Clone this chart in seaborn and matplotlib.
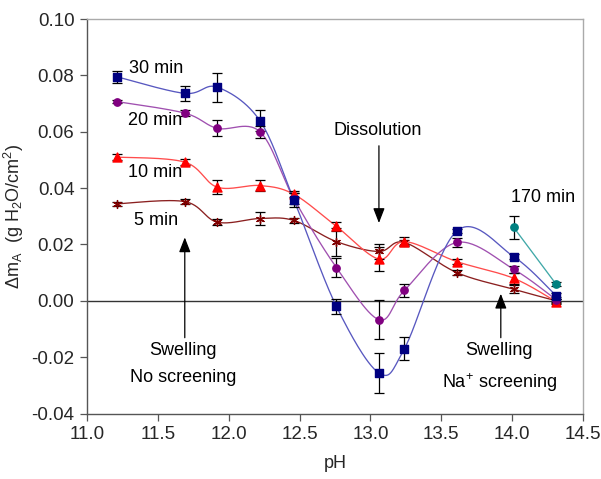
import numpy as np
import pandas as pd
import matplotlib
matplotlib.use("Agg")
import matplotlib.pyplot as plt
import seaborn as sns

# pH of each measurement
ph = [11.21, 11.69, 11.92, 12.22, 12.46, 12.76, 13.06, 13.24, 13.61, 14.01, 14.31]

# mass change (g H2O/cm2) and error bars per immersion time
dm_5 = [0.0344, 0.0352, 0.0279, 0.0292, 0.0285, 0.0210, 0.0175, 0.0207, 0.0100, 0.0041, 0.0000]
err_5 = [0.0008, 0.0008, 0.0010, 0.0022, 0.0010, 0.0050, 0.0025, 0.0010, 0.0008, 0.0015, 0.0008]

dm_10 = [0.0510, 0.0492, 0.0403, 0.0409, 0.0378, 0.0264, 0.0148, 0.0210, 0.0139, 0.0080, -0.0003]
err_10 = [0.0010, 0.0010, 0.0024, 0.0018, 0.0010, 0.0015, 0.0044, 0.0015, 0.0010, 0.0020, 0.0008]

dm_20 = [0.0707, 0.0666, 0.0612, 0.0600, 0.0362, 0.0118, -0.0067, 0.0037, 0.0207, 0.0112, 0.0004]
err_20 = [0.0006, 0.0010, 0.0028, 0.0022, 0.0020, 0.0034, 0.0070, 0.0022, 0.0015, 0.0012, 0.0010]

dm_30 = [0.0795, 0.0736, 0.0758, 0.0639, 0.0358, -0.0020, -0.0256, -0.0170, 0.0248, 0.0157, 0.0018]
err_30 = [0.0021, 0.0028, 0.0051, 0.0038, 0.0025, 0.0027, 0.0072, 0.0040, 0.0008, 0.0010, 0.0010]

ph_170 = [14.01, 14.31]
dm_170 = [0.0261, 0.0059]
err_170 = [0.0040, 0.0008]

series = [
    # label, x, y, err, marker colour, line colour, marker, size
    ("5 min", ph, dm_5, err_5, "#800000", "#8b2020", (6, 2, 0), 32),
    ("10 min", ph, dm_10, err_10, "#ff0000", "#ff4c4c", "^", 42),
    ("20 min", ph, dm_20, err_20, "#800080", "#a050b0", "o", 28),
    ("30 min", ph, dm_30, err_30, "#000080", "#5858c0", "s", 32),
    ("170 min", ph_170, dm_170, err_170, "#008080", "#40a8a8", "o", 28),
]


def smooth_curve(x, y, n=30):
    """Bezier smoothing through the points (Catmull-Rom style tangents)."""
    x = np.asarray(x, float)
    y = np.asarray(y, float)
    pts = np.column_stack([x, y])
    if len(pts) < 3:
        return x, y
    ext = np.vstack([pts[0], pts, pts[-1]])
    out = []
    t = np.linspace(0, 1, n)[:, None]
    for i in range(len(pts) - 1):
        p0, p1, p2, p3 = ext[i], ext[i + 1], ext[i + 2], ext[i + 3]
        c1 = p1 + (p2 - p0) / 6.0
        c2 = p2 - (p3 - p1) / 6.0
        seg = ((1 - t) ** 3) * p1 + 3 * ((1 - t) ** 2) * t * c1 + 3 * (1 - t) * t ** 2 * c2 + t ** 3 * p2
        out.append(seg if i == 0 else seg[1:])
    out = np.vstack(out)
    return out[:, 0], out[:, 1]


sns.set_style("white")
plt.rcParams["font.family"] = ["Liberation Sans", "DejaVu Sans"]
plt.rcParams["mathtext.fontset"] = "custom"
plt.rcParams["mathtext.rm"] = "Liberation Sans"
plt.rcParams["mathtext.it"] = "Liberation Sans"

fig = plt.figure(figsize=(6.01, 4.79), dpi=100)
ax = fig.add_axes([87 / 601, 1 - 413.5 / 479, 496 / 601, 394.5 / 479])

ax.axhline(0, color="#333333", lw=1.0, zorder=1)

for label, xs, ys, es, mc, lc, mk, sz in series:
    sx, sy = smooth_curve(xs, ys)
    curve = pd.DataFrame({"pH": sx, "dm": sy})
    sns.lineplot(data=curve, x="pH", y="dm", sort=False, estimator=None,
                 color=lc, lw=0.95, ax=ax, zorder=2)
    ax.errorbar(xs, ys, yerr=es, fmt="none", ecolor="black", elinewidth=0.9,
                capsize=3.5, capthick=0.9, zorder=3)
    pts = pd.DataFrame({"pH": xs, "dm": ys})
    sns.scatterplot(data=pts, x="pH", y="dm", color=mc, marker=mk, s=sz,
                    edgecolor=mc, linewidth=1.0, ax=ax, zorder=4)

ax.set_xlim(11.0, 14.5)
ax.set_ylim(-0.04, 0.10)
ax.set_xticks(np.arange(11.0, 14.51, 0.5))
ax.set_xticklabels([f"{v:.1f}" for v in np.arange(11.0, 14.51, 0.5)])
ax.set_yticks(np.arange(-0.04, 0.101, 0.02))
ax.set_yticklabels([f"{v:.2f}" for v in np.arange(-0.04, 0.101, 0.02)])
ax.tick_params(axis="both", which="major", direction="out", length=5, width=0.9,
               color="#555555", labelsize=13.5, pad=4, bottom=True, left=True)

for side in ["left", "bottom"]:
    ax.spines[side].set_color("#555555")
    ax.spines[side].set_linewidth(1.0)
for side in ["top", "right"]:
    ax.spines[side].set_color("#aaaaaa")
    ax.spines[side].set_linewidth(1.0)

ax.set_xlabel("pH", fontsize=13, labelpad=9)
ax.set_ylabel(r"$\Delta$m$_\mathregular{A}$  (g H$_\mathregular{2}$O/cm$^\mathregular{2}$)",
              fontsize=13, labelpad=4)

txt = dict(fontsize=13, ha="center", va="center", color="black")
ax.text(11.49, 0.0826, "30 min", **txt)
ax.text(11.48, 0.0640, "20 min", **txt)
ax.text(11.48, 0.0455, "10 min", **txt)
ax.text(11.49, 0.0284, "5 min", **txt)
ax.text(13.05, 0.0606, "Dissolution", **txt)
ax.text(14.22, 0.0366, "170 min", **txt)
ax.text(11.68, -0.0177, "Swelling", **txt)
ax.text(11.68, -0.0271, "No screening", **txt)
ax.text(13.91, -0.0177, "Swelling", **txt)
ax.text(13.91, -0.0290, r"Na$^\mathregular{+}$ screening", **txt)

arrow = dict(arrowstyle="-|>,head_length=0.9,head_width=0.35", color="black", lw=0.9,
             shrinkA=0, shrinkB=0)
ax.annotate("", xy=(13.06, 0.0276), xytext=(13.06, 0.0550), arrowprops=arrow)
ax.annotate("", xy=(11.69, 0.0225), xytext=(11.69, -0.0131), arrowprops=arrow)
ax.annotate("", xy=(13.92, 0.0025), xytext=(13.92, -0.0131), arrowprops=arrow)

fig.savefig("out.png", dpi=100, facecolor="white")
